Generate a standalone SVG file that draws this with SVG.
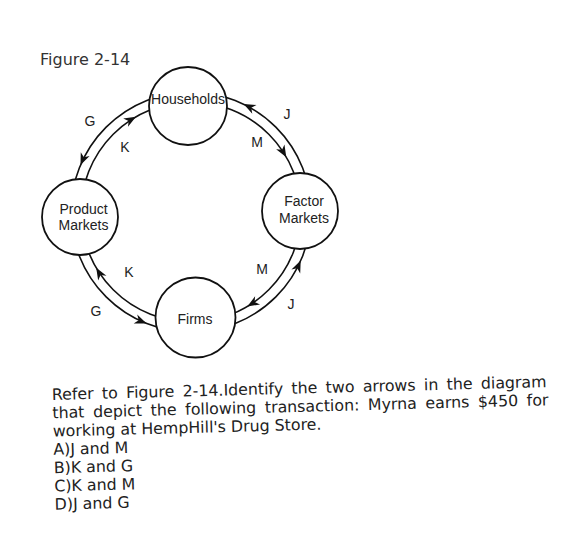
<svg xmlns="http://www.w3.org/2000/svg" xmlns:xlink="http://www.w3.org/1999/xlink" width="573" height="539" viewBox="0 0 573 539">
  <style>
    .arc { fill: none; stroke: #111; stroke-width: 1.6; }
    .node { fill: #fff; stroke: #111; stroke-width: 1.8; }
    .nl { font-family: "Liberation Sans", Arial, sans-serif; font-size: 14px; fill: #222; text-anchor: middle; }
    .lbl { font-family: "Liberation Sans", Arial, sans-serif; font-size: 14px; fill: #222; text-anchor: middle; }
    .q { font-family: "DejaVu Sans", Verdana, sans-serif; font-size: 15.8px; fill: #222; }
    .title { font-family: "DejaVu Sans", Verdana, sans-serif; font-size: 16px; fill: #333; }
  </style>
  <defs>
    <path id="ah" d="M0,0 L-12,-4.8 L-8.5,0 L-12,4.8 Z" fill="#111"/>
  </defs>
  <rect width="573" height="539" fill="#fff"/>
  <text class="title" x="40" y="65">Figure 2-14</text>

  <g id="connectors">
    <g id="G-top">
      <path class="arc" d="M191,92 A120,120 0 0 0 71,212"/>
      <use xlink:href="#ah" href="#ah" transform="translate(80.5,165.1) rotate(113)"/>
    </g>
    <g id="K-top">
      <path class="arc" d="M81,212 A110,110 0 0 1 191,102"/>
      <use xlink:href="#ah" href="#ah" transform="translate(136,116.7) rotate(330)"/>
    </g>
    <g id="J-top">
      <path class="arc" d="M311,212 A120,120 0 0 0 191,92"/>
      <use xlink:href="#ah" href="#ah" transform="translate(243.6,104.1) rotate(-154)"/>
    </g>
    <g id="M-top">
      <path class="arc" d="M191,102 A110,110 0 0 1 301,212"/>
      <use xlink:href="#ah" href="#ah" transform="translate(286.3,157.2) rotate(60)"/>
    </g>
    <g id="J-bottom">
      <path class="arc" d="M191,332 A120,120 0 0 0 311,212"/>
      <use xlink:href="#ah" href="#ah" transform="translate(300.7,260.6) rotate(-66)"/>
    </g>
    <g id="M-bottom">
      <path class="arc" d="M301,212 A110,110 0 0 1 191,322"/>
      <use xlink:href="#ah" href="#ah" transform="translate(247.3,306.5) rotate(149)"/>
    </g>
    <g id="K-bottom">
      <path class="arc" d="M191,322 A110,110 0 0 1 81,212"/>
      <use xlink:href="#ah" href="#ah" transform="translate(96.2,267.8) rotate(239.5)"/>
    </g>
    <g id="G-bottom">
      <path class="arc" d="M71,212 A120,120 0 0 0 191,332"/>
      <use xlink:href="#ah" href="#ah" transform="translate(146.6,323.5) rotate(21.7)"/>
    </g>
    <g id="labels">
      <text class="lbl" x="90" y="126">G</text>
      <text class="lbl" x="125" y="152">K</text>
      <text class="lbl" x="287" y="119">J</text>
      <text class="lbl" x="257" y="147">M</text>
      <text class="lbl" x="129" y="277">K</text>
      <text class="lbl" x="96" y="316">G</text>
      <text class="lbl" x="262" y="274">M</text>
      <text class="lbl" x="291" y="309">J</text>
    </g>
  </g>

  <g id="households">
    <circle class="node" cx="188" cy="106" r="39"/>
    <text class="nl" x="188" y="104">Households</text>
  </g>
  <g id="factor-markets">
    <circle class="node" cx="300" cy="211" r="38"/>
    <text class="nl" x="304" y="206">Factor</text>
    <text class="nl" x="304" y="222.5">Markets</text>
  </g>
  <g id="product-markets">
    <circle class="node" cx="80" cy="217" r="38"/>
    <text class="nl" x="83.5" y="214">Product</text>
    <text class="nl" x="83.5" y="229.5">Markets</text>
  </g>
  <g id="firms">
    <circle class="node" cx="195.5" cy="317.5" r="40"/>
    <text class="nl" x="195" y="323.5">Firms</text>
  </g>

  <g id="question" transform="rotate(-1.5 52 400)">
    <text class="q" x="52" y="400" word-spacing="3.3">Refer to Figure 2-14.Identify the two arrows in the diagram</text>
    <text class="q" x="52" y="418.3" word-spacing="3.6">that depict the following transaction: Myrna earns $450 for</text>
    <text class="q" x="52" y="436.6">working at HempHill's Drug Store.</text>
    <text class="q" x="52" y="454.9">A)J and M</text>
    <text class="q" x="52" y="473.2">B)K and G</text>
    <text class="q" x="52" y="491.5">C)K and M</text>
    <text class="q" x="52" y="509.8">D)J and G</text>
  </g>
</svg>
